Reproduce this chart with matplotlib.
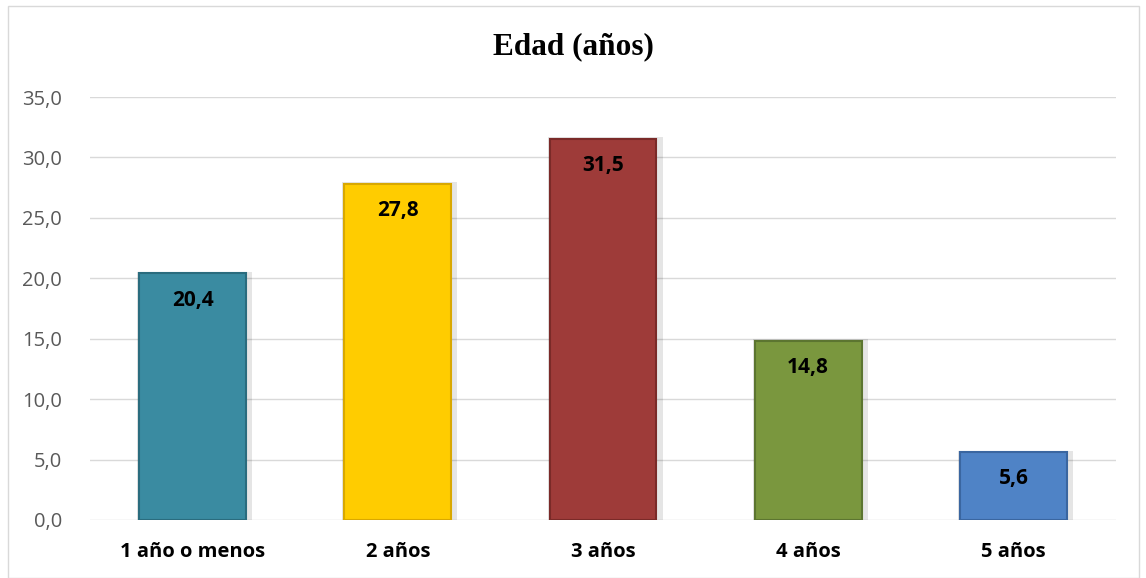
import matplotlib.pyplot as plt
from matplotlib.patches import Rectangle

categories = ["1 año o menos", "2 años", "3 años", "4 años", "5 años"]
values = [20.4, 27.8, 31.5, 14.8, 5.6]
colors = ["#3A8BA1", "#FFCC00", "#9E3B39", "#7A973E", "#4F83C6"]
edge_colors = ["#2A6C7E", "#D9A800", "#7A2A28", "#5C7530", "#3A66A0"]

fig = plt.figure(figsize=(11.46, 5.78), dpi=100)
ax = fig.add_axes([90 / 1146, 1 - 520 / 578, 1026 / 1146, 423 / 578])

# chart border
fig.patches.append(Rectangle((8 / 1146, 0.0), 1131 / 1146, 0.99, transform=fig.transFigure,
                             fill=False, edgecolor="#D9D9D9", linewidth=1))

x = range(len(categories))
# soft shadow behind bars
ax.bar([i + 0.01 for i in x], [v + 0.15 for v in values], width=0.56,
       color="#000000", alpha=0.10, zorder=2)
bars = ax.bar(x, values, width=0.52, color=colors, edgecolor=edge_colors,
              linewidth=1.5, zorder=3)

for i, v in enumerate(values):
    ax.text(i, v - 2.2, f"{v:.1f}".replace(".", ","), ha="center", va="center",
            fontsize=15, fontweight="bold", color="black", family="Open Sans", zorder=4)

ax.set_ylim(0, 35)
ax.set_xlim(-0.5, 4.5)
ax.set_yticks(range(0, 36, 5))
ax.set_yticklabels([f"{t:.1f}".replace(".", ",") for t in range(0, 36, 5)],
                   fontsize=14.5, color="#595959", family="Open Sans")
ax.set_xticks(list(x))
ax.set_xticklabels(categories, fontsize=14.5, fontweight="bold", color="black", family="Open Sans")
ax.tick_params(axis="y", length=0, pad=20)
ax.tick_params(axis="x", length=0, pad=16)
ax.grid(axis="y", color="#D9D9D9", linewidth=1, zorder=0)
ax.set_axisbelow(True)
for s in ax.spines.values():
    s.set_visible(False)

fig.text(0.5, 1 - 47 / 578, "Edad (años)", ha="center", va="center",
         fontsize=22.5, fontweight="bold", family="Liberation Serif")

plt.savefig("out.png")
plt.close()
